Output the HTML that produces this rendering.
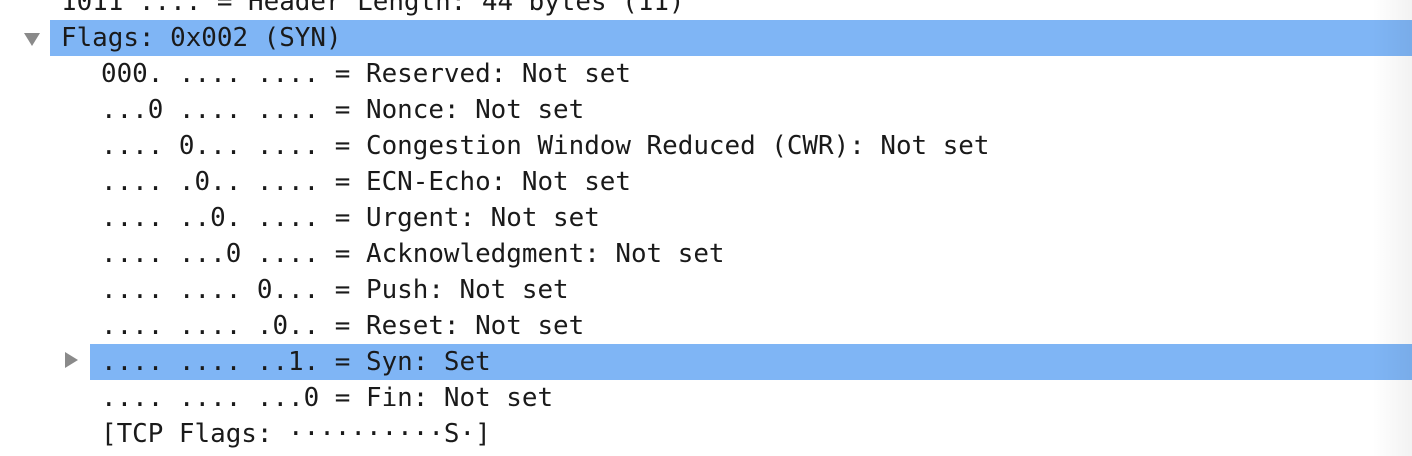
<!DOCTYPE html>
<html><head><meta charset="utf-8"><style>
html,body{margin:0;padding:0;background:#fff;width:1412px;height:456px;overflow:hidden;position:relative;}
.row{position:absolute;left:0;width:1412px;height:36px;line-height:36px;font-family:"DejaVu Sans Mono","Liberation Mono",monospace;font-size:25.9px;color:#1a1a1a;white-space:pre;}
.sel{background:#7fb5f5;}
.fade{position:absolute;right:0;top:0;width:40px;height:456px;background:linear-gradient(to right,rgba(0,0,0,0),rgba(0,0,0,0.05));}
.tri{position:absolute;width:0;height:0;}
</style></head><body>
<div class="row" style="top:-16px;"><span style="position:absolute;left:61px;">1011 .... = Header Length: 44 bytes (11)</span></div>
<div class="row sel" style="top:20px;left:50px;width:1362px;"><span style="position:absolute;left:11px;">Flags: 0x002 (SYN)</span></div>
<div class="tri" style="left:24px;top:33px;border-left:8px solid transparent;border-right:8px solid transparent;border-top:13px solid #8a8a8a;"></div>
<div class="row" style="top:56px;"><span style="position:absolute;left:101px;">000. .... .... = Reserved: Not set</span></div>
<div class="row" style="top:92px;"><span style="position:absolute;left:101px;">...0 .... .... = Nonce: Not set</span></div>
<div class="row" style="top:128px;"><span style="position:absolute;left:101px;">.... 0... .... = Congestion Window Reduced (CWR): Not set</span></div>
<div class="row" style="top:164px;"><span style="position:absolute;left:101px;">.... .0.. .... = ECN-Echo: Not set</span></div>
<div class="row" style="top:200px;"><span style="position:absolute;left:101px;">.... ..0. .... = Urgent: Not set</span></div>
<div class="row" style="top:236px;"><span style="position:absolute;left:101px;">.... ...0 .... = Acknowledgment: Not set</span></div>
<div class="row" style="top:272px;"><span style="position:absolute;left:101px;">.... .... 0... = Push: Not set</span></div>
<div class="row" style="top:308px;"><span style="position:absolute;left:101px;">.... .... .0.. = Reset: Not set</span></div>
<div class="row sel" style="top:344px;left:90px;width:1322px;"><span style="position:absolute;left:11px;">.... .... ..1. = Syn: Set</span></div>
<div class="tri" style="left:65px;top:352px;border-top:8px solid transparent;border-bottom:8px solid transparent;border-left:13px solid #8a8a8a;"></div>
<div class="row" style="top:380px;"><span style="position:absolute;left:101px;">.... .... ...0 = Fin: Not set</span></div>
<div class="row" style="top:416px;"><span style="position:absolute;left:101px;">[TCP Flags: ··········S·]</span></div>
<div class="fade"></div>
</body></html>
